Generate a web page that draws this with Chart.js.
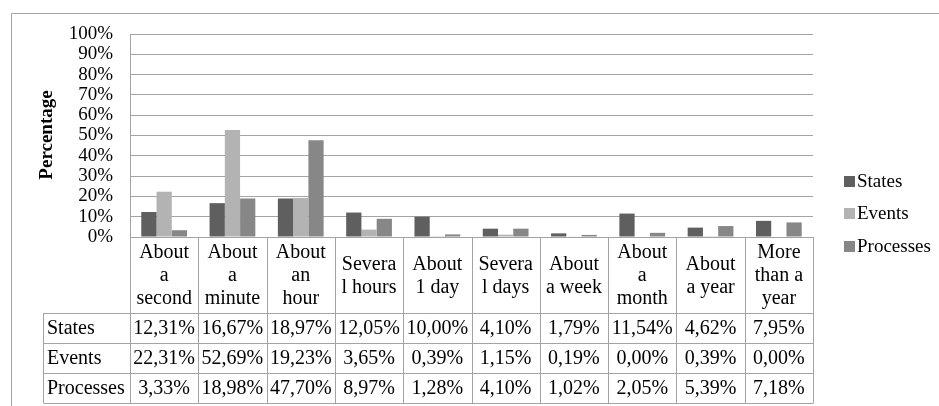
<!DOCTYPE html>
<html>
<head>
<meta charset="utf-8">
<script src="https://cdn.jsdelivr.net/npm/chart.js@4/dist/chart.umd.min.js"></script>
<style>
html,body{margin:0;padding:0;background:#fff;}
#wrap{width:939px;height:406px;position:relative;}
</style>
</head>
<body>
<div id="wrap"><canvas id="c" width="939" height="406"></canvas></div>
<script>
const categories = [
  ["About","a","second"],
  ["About","a","minute"],
  ["About","an","hour"],
  ["Severa","l hours"],
  ["About","1 day"],
  ["Severa","l days"],
  ["About","a week"],
  ["About","a","month"],
  ["About","a year"],
  ["More","than a","year"]
];
const seriesNames = ["States","Events","Processes"];
const states    = [12.31, 16.67, 18.97, 12.05, 10.00, 4.10, 1.79, 11.54, 4.62, 7.95];
const events    = [22.31, 52.69, 19.23, 3.65, 0.39, 1.15, 0.19, 0.00, 0.39, 0.00];
const processes = [3.33, 18.98, 47.70, 8.97, 1.28, 4.10, 1.02, 2.05, 5.39, 7.18];
const yTicks = [0,10,20,30,40,50,60,70,80,90,100];
const colors = ["#5f5f5f","#b3b3b3","#878787"];

const SERIF = "'Liberation Serif','Times New Roman',serif";
const lineCol = "#a3a3a3";
const fmt = v => v.toFixed(2).replace('.', ',') + '%';

const tablePlugin = {
  id: 'tablePlugin',
  afterDraw(chart) {
    const ctx = chart.ctx;
    const xs = chart.scales.x;
    const ca = chart.chartArea;
    const n = chart.data.labels.length;
    const colW = (ca.right - ca.left) / n;
    const top = ca.bottom;
    const hdrBottom = top + 76;
    const rowH = 30;
    const tableBottom = hdrBottom + rowH * 3;
    const rowHdrLeft = 43.5;
    ctx.save();
    // outer frame
    ctx.strokeStyle = lineCol;
    ctx.lineWidth = 1;
    ctx.beginPath();
    ctx.moveTo(11.5, 406); ctx.lineTo(11.5, 13.5); ctx.lineTo(939, 13.5);
    ctx.stroke();
    // table grid
    ctx.beginPath();
    for (let i = 0; i <= n; i++) {
      const x = Math.round(ca.left + i * colW) + 0.5;
      ctx.moveTo(x, top); ctx.lineTo(x, tableBottom);
    }
    ctx.moveTo(rowHdrLeft, hdrBottom); ctx.lineTo(rowHdrLeft, tableBottom);
    for (let r = 0; r <= 3; r++) {
      const y = Math.round(hdrBottom + r * rowH) + 0.5;
      ctx.moveTo(rowHdrLeft, y); ctx.lineTo(Math.round(ca.right) + 0.5, y);
    }
    ctx.stroke();
    // header text
    ctx.fillStyle = "#000";
    ctx.font = "20px " + SERIF;
    ctx.textAlign = "center";
    ctx.textBaseline = "middle";
    const hdrMid = (top + hdrBottom) / 2 + 1;
    chart.data.labels.forEach((lab, i) => {
      const cx = xs.getPixelForValue(i);
      const lines = lab;
      const lh = 23;
      const y0 = hdrMid - (lines.length - 1) * lh / 2;
      lines.forEach((t, k) => ctx.fillText(t, cx, y0 + k * lh));
    });
    // rows
    chart.data.datasets.forEach((ds, r) => {
      const cy = hdrBottom + r * rowH + rowH / 2 + 1;
      ctx.textAlign = "left";
      ctx.fillText(ds.label, 47, cy);
      ctx.textAlign = "center";
      ds.data.forEach((v, i) => {
        ctx.fillText(fmt(v), xs.getPixelForValue(i), cy);
      });
    });
    // legend
    ctx.font = "19px " + SERIF;
    ctx.textAlign = "left";
    const legY = [181, 213, 246];
    chart.data.datasets.forEach((ds, r) => {
      ctx.fillStyle = ds.backgroundColor;
      ctx.fillRect(844, legY[r] - 5, 11, 11);
      ctx.fillStyle = "#000";
      ctx.fillText(ds.label, 857, legY[r] + 1);
    });
    // y title
    ctx.font = "bold 19px " + SERIF;
    ctx.translate(47, 135);
    ctx.rotate(-Math.PI / 2);
    ctx.textAlign = "center";
    ctx.fillText("Percentage", 0, 0);
    ctx.restore();
  }
};

new Chart(document.getElementById('c'), {
  type: 'bar',
  data: {
    labels: categories,
    datasets: [
      { label: seriesNames[0], data: states, backgroundColor: colors[0] },
      { label: seriesNames[1], data: events, backgroundColor: colors[1] },
      { label: seriesNames[2], data: processes, backgroundColor: colors[2] }
    ]
  },
  options: {
    responsive: false,
    animation: false,
    devicePixelRatio: 1,
    layout: { padding: { top: 34, right: 126, bottom: 169, left: 0 } },
    datasets: { bar: { categoryPercentage: 0.67, barPercentage: 1.0, borderWidth: 0 } },
    plugins: { legend: { display: false }, tooltip: { enabled: false } },
    scales: {
      x: { display: false, grid: { display: false } },
      y: {
        min: 0, max: 100,
        afterFit(scale) { scale.width = 130; },
        afterBuildTicks(scale) { scale.ticks = yTicks.map(v => ({ value: v })); },
        grid: { color: lineCol, lineWidth: 1, drawTicks: false },
        border: { display: true, color: lineCol },
        ticks: {
          autoSkip: false,
          padding: 17,
          color: "#000",
          font: { family: SERIF, size: 19 },
          callback: v => v + '%'
        }
      }
    }
  },
  plugins: [tablePlugin]
});
</script>
</body>
</html>
